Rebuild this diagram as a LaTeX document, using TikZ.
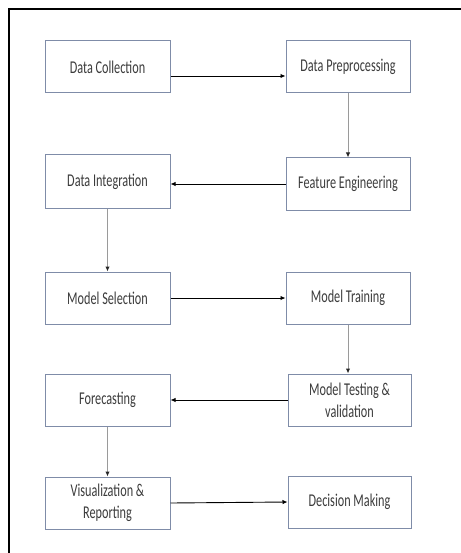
\documentclass[tikz,border=0pt]{standalone}
\usepackage{fontspec}
\setmainfont[FakeStretch=0.68]{Carlito}
\usetikzlibrary{arrows.meta}
\definecolor{boxline}{HTML}{7F8CA8}
\definecolor{txt}{HTML}{3C3C3C}
\definecolor{vline}{HTML}{9A9A9A}
\tikzset{
  stepbox/.style={draw=boxline, line width=1pt, fill=white, minimum width=125pt, minimum height=52pt,
    inner sep=0pt, align=center, text=txt, font=\fontsize{18}{22}\selectfont},
  harr/.style={draw=black, line width=0.9pt, -{Latex[length=5pt,width=4.5pt]}},
  varr/.style={draw=vline, line width=1pt, -{Latex[length=5pt,width=4.5pt,color=black!85]}}
}
\begin{document}
\begin{tikzpicture}[x=1pt,y=-1pt]
\useasboundingbox (0,0) rectangle (460,553);
\fill[white] (0,0) rectangle (460,553);
\draw[line width=2pt, black] (8.5,560) -- (8.5,9.5) -- (470,9.5);

\node[stepbox] (dc) at (107.5,67) {Data Collection};
\node[stepbox, minimum width=124pt] (dp) at (348,67) {Data Preprocessing};
\node[stepbox, minimum height=53pt] (di) at (107.5,181.5) {Data Integration};
\node[stepbox, minimum width=124pt] (fe) at (348,184) {Feature Engineering};
\node[stepbox] (ms) at (107.5,298) {Model Selection};
\node[stepbox, minimum width=124pt] (mt) at (348,298) {Model Training};
\node[stepbox] (fc) at (107.5,400) {Forecasting};
\node[stepbox, minimum width=123pt] (mv) at (349.5,400) {Model Testing \&\\validation};
\node[stepbox] (vr) at (107.5,503) {Visualization \&\\Reporting};
\node[stepbox, minimum width=123pt] (dm) at (349.5,502) {Decision Making};

\draw[harr] ([yshift=-9pt]dc.east) -- ([yshift=-9pt]dp.west);
\draw[varr] (dp.south) -- (fe.north);
\draw[harr] (fe.west) -- (di.east |- fe.west);
\draw[varr] (di.south) -- (ms.north);
\draw[harr] (ms.east) -- (mt.west);
\draw[varr] (mt.south -| dp.south) -- (mv.north -| dp.south);
\draw[harr] (mv.west) -- (fc.east |- mv.west);
\draw[varr] (fc.south) -- (vr.north);
\draw[harr] (vr.east) -- (dm.west);
\end{tikzpicture}
\end{document}
